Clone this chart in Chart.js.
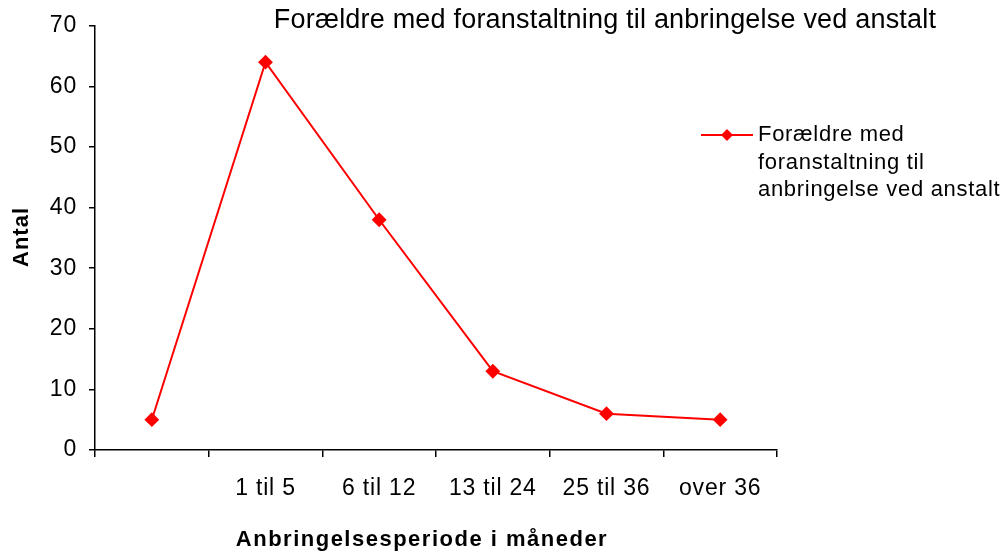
<!DOCTYPE html>
<html>
<head>
<meta charset="utf-8">
<script src="https://cdn.jsdelivr.net/npm/chart.js@4/dist/chart.umd.min.js"></script>
<style>
  html, body { margin: 0; padding: 0; background: #fff; }
  #wrap { width: 1006px; height: 553px; }
</style>
</head>
<body>
<div id="wrap"><canvas id="linjeGraf"></canvas></div>
<script>
// dati del grafico
const kategorier = ['', '1 til 5', '6 til 12', '13 til 24', '25 til 36', 'over 36'];
const antal = [5, 64, 38, 13, 6, 5];
const serieNavn = 'Forældre med foranstaltning til anbringelse ved anstalt';
const legendLinjer = ['Forældre med', 'foranstaltning til', 'anbringelse ved anstalt'];
const yTicks = [0, 10, 20, 30, 40, 50, 60, 70];
const xTitel = 'Anbringelsesperiode i måneder';
const yTitel = 'Antal';

const FONT = "'Liberation Sans', Arial, sans-serif";
const ROD = '#ff0000';

// spaziatura lettere come nel grafico originale (excel)
const spaziatura = {
  id: 'spaziatura',
  beforeDraw: (chart) => { chart.ctx.letterSpacing = '0.8px'; }
};

// titolo, titoli degli assi e legenda disegnati a mano
const testiPlugin = {
  id: 'testi',
  afterDraw: (chart) => {
    const ctx = chart.ctx;
    const ds = chart.data.datasets[0];
    ctx.save();
    ctx.fillStyle = '#000';
    ctx.textBaseline = 'middle';

    // titolo
    ctx.letterSpacing = '0.2px';
    ctx.font = '27px ' + FONT;
    ctx.textAlign = 'center';
    ctx.fillText(serieNavn, 605, 21);

    // titolo asse x
    ctx.letterSpacing = '1.5px';
    ctx.font = 'bold 22px ' + FONT;
    ctx.fillText(xTitel, 422, 540);

    // titolo asse y
    ctx.save();
    ctx.translate(22, 237);
    ctx.rotate(-Math.PI / 2);
    ctx.letterSpacing = '1px';
    ctx.font = 'bold 22px ' + FONT;
    ctx.fillText(yTitel, 0, 0);
    ctx.restore();

    // legenda
    const y0 = 135;
    ctx.strokeStyle = ds.borderColor;
    ctx.lineWidth = 2;
    ctx.beginPath();
    ctx.moveTo(701, y0);
    ctx.lineTo(753, y0);
    ctx.stroke();
    ctx.fillStyle = ds.pointBackgroundColor;
    ctx.beginPath();
    ctx.moveTo(727, y0 - 6);
    ctx.lineTo(733, y0);
    ctx.lineTo(727, y0 + 6);
    ctx.lineTo(721, y0);
    ctx.closePath();
    ctx.fill();
    ctx.fillStyle = '#000';
    ctx.letterSpacing = '0.7px';
    ctx.font = '22px ' + FONT;
    ctx.textAlign = 'left';
    legendLinjer.forEach((t, i) => ctx.fillText(t, 758, y0 + i * 27.5));
    ctx.restore();
  }
};

const ctx = document.getElementById('linjeGraf').getContext('2d');
new Chart(ctx, {
  type: 'line',
  data: {
    labels: kategorier,
    datasets: [{
      label: serieNavn,
      data: antal,
      borderColor: ROD,
      backgroundColor: ROD,
      pointBackgroundColor: ROD,
      pointBorderColor: ROD,
      pointStyle: 'rectRot',
      pointRadius: 6,
      pointHoverRadius: 6,
      borderWidth: 2,
      tension: 0
    }]
  },
  options: {
    responsive: true,
    maintainAspectRatio: false,
    animation: false,
    layout: { padding: { top: 24, right: 229, left: 0, bottom: 0 } },
    plugins: {
      legend: { display: false },
      title: { display: false },
      tooltip: { enabled: false }
    },
    scales: {
      x: {
        offset: true,
        afterFit: (s) => { s.height = 103; },
        border: { color: '#000', width: 1.5 },
        grid: { offset: true, drawOnChartArea: false, drawTicks: true, tickLength: 7, color: '#000', lineWidth: 1.5 },
        ticks: { color: '#000', font: { family: FONT, size: 23 }, padding: 18, maxRotation: 0, autoSkip: false }
      },
      y: {
        min: 0,
        max: 70,
        afterFit: (s) => { s.width = 95; },
        afterBuildTicks: (s) => { s.ticks = yTicks.map(v => ({ value: v })); },
        border: { color: '#000', width: 1.5 },
        grid: { drawOnChartArea: false, drawTicks: true, tickLength: 6, color: '#000', lineWidth: 1.5 },
        ticks: { color: '#000', font: { family: FONT, size: 23 }, padding: 12 }
      }
    }
  },
  plugins: [spaziatura, testiPlugin]
});
</script>
</body>
</html>
